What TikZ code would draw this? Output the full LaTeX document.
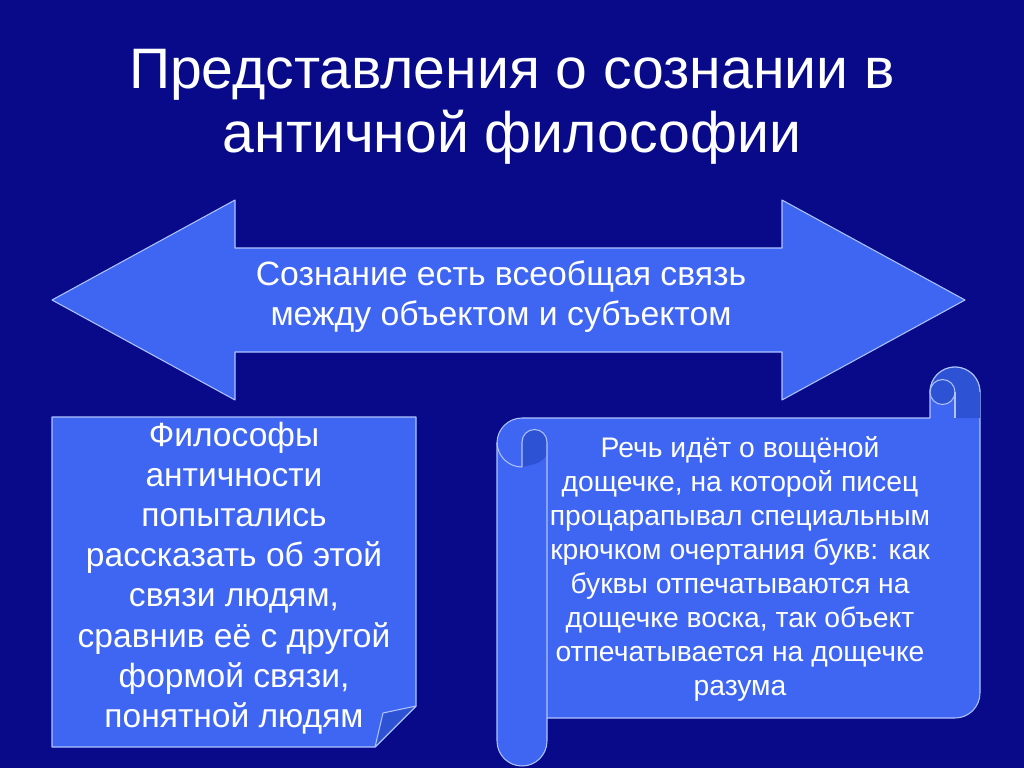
\documentclass[tikz,border=0pt]{standalone}
\usepackage{fontspec}
\setmainfont{Liberation Sans}
\usepackage{tikz}
\usetikzlibrary{positioning}
\definecolor{slidebg}{RGB}{8,10,138}
\definecolor{shapefill}{RGB}{62,102,242}
\definecolor{shapeline}{RGB}{175,195,255}
\definecolor{curlfill}{RGB}{46,82,212}

\begin{document}
\begin{tikzpicture}
[x=0.02cm, y=-0.02cm,
panel/.style={fill=shapefill, draw=shapeline, line width=0.6pt, line join=round},
curl/.style={fill=curlfill, draw=shapeline, line width=0.6pt, line join=round},
curlshade/.style={fill=curlfill},
edge/.style={draw=shapeline, line width=0.6pt},
slidetitle/.style={text=white, align=center, font=\fontsize{32.5}{36.4}\selectfont},
arrowtext/.style={text=white, align=center, font=\fontsize{19.2}{22.8}\selectfont},
notetext/.style={text=white, align=center, font=\fontsize{19.1}{22.9}\selectfont},
scrolltext/.style={text=white, align=center, font=\fontsize{16.1}{19.3}\selectfont}]
    \fill[slidebg] (0,0) rectangle (1024,768);
    \useasboundingbox (0,0) rectangle (1024,768);

    \node[slidetitle] (title) at (512,107) {Представления о сознании в\\античной философии};

    \path[panel] (52,300) -- (235,200) -- (235,248) -- (782,248) -- (782,200) -- (965,300)
        -- (782,400) -- (782,352) -- (235,352) -- (235,400) -- cycle;
    \node[arrowtext] (link) at (501,297) {Сознание есть всеобщая связь\\между объектом и субъектом};

    \path[panel] (52,417) -- (416,417) -- (416,706) -- (375,747) -- (52,747) -- cycle;
    \path[curl] (416,706) -- (383,713) -- (375,747) -- cycle;
    \node[notetext] (ancient) at (234,578) {Философы\\античности\\попытались\\рассказать об этой\\связи людям,\\сравнив её с другой\\формой связи,\\понятной людям};

    \path[panel] (522,418) -- (930,418) -- (930,392) arc[start angle=180, end angle=360, radius=25]
        -- (980,693) arc[start angle=0, end angle=90, radius=25]
        -- (547,718) -- (547,741) arc[start angle=0, end angle=180, radius=25]
        -- (497,443) arc[start angle=180, end angle=270, radius=25] -- cycle;
    \path[curlshade] (522,467) -- (522,442) arc[start angle=180, end angle=360, radius=12.5]
        -- (547,455) .. controls (540,463) .. (522,467) -- cycle;
    \draw[edge] (522,467) -- (522,442) arc[start angle=180, end angle=360, radius=12.5] -- (547,718);
    \draw[edge] (497,442) arc[start angle=180, end angle=90, radius=25];
    \path[curlshade] (930,392) arc[start angle=180, end angle=360, radius=25] -- (980,418) -- (955,418)
        -- (955,392) arc[start angle=0, end angle=180, radius=12.5] -- cycle;
    \draw[edge] (930,392) arc[start angle=180, end angle=360, radius=25];
    \draw[edge] (942.5,392) circle[radius=12.5];
    \draw[edge] (955,392) -- (955,418);
    \node[scrolltext] (tablet) at (740,569) {Речь идёт о вощёной\\дощечке, на которой писец\\процарапывал специальным\\крючком очертания букв: как\\буквы отпечатываются на\\дощечке воска, так объект\\отпечатывается на дощечке\\разума};
\end{tikzpicture}
\end{document}
